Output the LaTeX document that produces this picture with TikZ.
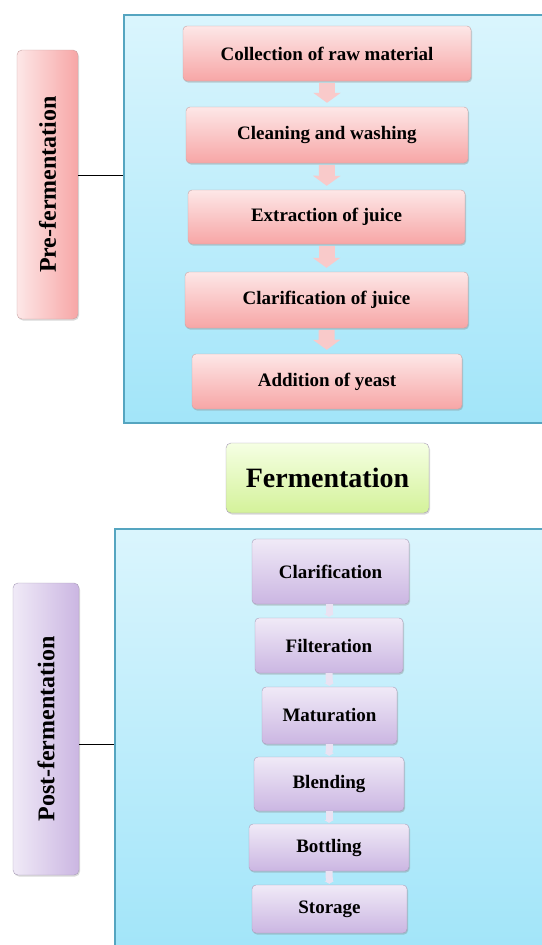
\documentclass[tikz,border=0pt]{standalone}
\usepackage{fontspec}
\setmainfont{Liberation Serif}
\usetikzlibrary{positioning, arrows.meta, shadows}

\definecolor{paneltop}{HTML}{DAF5FD}
\definecolor{panelbottom}{HTML}{A2E5F9}
\definecolor{panelline}{HTML}{55A5C0}
\definecolor{pinktop}{HTML}{FDE7E7}
\definecolor{pinkbottom}{HTML}{F7A6A6}
\definecolor{pinkline}{HTML}{C9A3A3}
\definecolor{pinkarrow}{HTML}{F9CACA}
\definecolor{lilactop}{HTML}{F0EAF7}
\definecolor{lilacbottom}{HTML}{CBB6E2}
\definecolor{lilacline}{HTML}{A99DB8}
\definecolor{lilacarrow}{HTML}{EAE2F2}
\definecolor{greentop}{HTML}{F5FFE3}
\definecolor{greenbottom}{HTML}{D4F29A}

\begin{document}
\begin{tikzpicture}[x=1pt, y=-1pt]
	\tikzset{
	panel/.style={draw=panelline, line width=1.2pt, top color=paneltop, bottom color=panelbottom, inner sep=0pt}, % the two big blue areas
	boxtext/.style={font=\bfseries\fontsize{19}{22}\selectfont, align=center, inner sep=2pt},
	pinkstep/.style={boxtext, draw=pinkline, rounded corners=4pt, top color=pinktop, bottom color=pinkbottom,
		drop shadow={opacity=0.35, shadow xshift=1pt, shadow yshift=-1.5pt}}, % pre-fermentation steps
	lilacstep/.style={boxtext, draw=lilacline, rounded corners=4pt, top color=lilactop, bottom color=lilacbottom,
		drop shadow={opacity=0.35, shadow xshift=1pt, shadow yshift=-1.5pt}}, % post-fermentation steps
	sidelabel/.style={font=\bfseries\fontsize{24}{28}\selectfont, rounded corners=5pt, inner sep=0pt,
		drop shadow={opacity=0.3, shadow xshift=1pt, shadow yshift=-1.5pt}},
	pinkflow/.style={pinkarrow, line width=16pt, -{Triangle[width=27pt, length=10pt]}, shorten <=2pt, shorten >=4pt}, % block arrows
	lilacflow/.style={lilacarrow, line width=7pt, -{Triangle[width=10pt, length=3pt]}, shorten <=0pt, shorten >=1pt}
	}
	\useasboundingbox (0,0) rectangle (541,945);

	% blue areas
	\node[panel, minimum width=426pt, minimum height=408pt] (prebox) at (337,219) {};
	\node[panel, minimum width=435pt, minimum height=421pt] (postbox) at (332.5,739.5) {};

	% side labels
	\node[sidelabel, draw=pinkline, left color=pinktop, right color=pinkbottom, minimum width=61pt, minimum height=269pt] (prelabel) at (47.5,184.5) {\rotatebox{90}{Pre-fermentation}};
	\node[sidelabel, draw=lilacline, left color=lilactop, right color=lilacbottom, minimum width=66pt, minimum height=292pt] (postlabel) at (46,729) {\rotatebox{90}{Post-fermentation}};
	\draw[line width=0.8pt] (prelabel.east |- 0,175) -- (prebox.west |- 0,175);
	\draw[line width=0.8pt] (postlabel.east |- 0,744) -- (postbox.west |- 0,744);

	% pre-fermentation steps
	\node[pinkstep, minimum width=288pt, minimum height=55pt] (collect) at (327,53.5) {Collection of raw material};
	\node[pinkstep, minimum width=282pt, minimum height=56pt] (clean) at (327,135) {Cleaning and washing};
	\node[pinkstep, minimum width=277pt, minimum height=54pt] (extract) at (326.5,217) {Extraction of juice};
	\node[pinkstep, minimum width=283pt, minimum height=56pt] (clarjuice) at (326.5,300) {Clarification of juice};
	\node[pinkstep, minimum width=270pt, minimum height=55pt] (yeast) at (327,381.5) {Addition of yeast};
	\draw[pinkflow] (collect) -- (clean);
	\draw[pinkflow] (clean) -- (extract);
	\draw[pinkflow] (extract) -- (clarjuice);
	\draw[pinkflow] (clarjuice) -- (yeast);

	% fermentation
	\node[boxtext, font=\bfseries\fontsize{28}{32}\selectfont, draw=lilacline, rounded corners=5pt, top color=greentop, bottom color=greenbottom,
		minimum width=203pt, minimum height=70pt, drop shadow={opacity=0.3, shadow xshift=1pt, shadow yshift=-1.5pt}] (ferment) at (327.5,478) {Fermentation};

	% post-fermentation steps
	\node[lilacstep, minimum width=157pt, minimum height=65pt] (clarify) at (330.5,571.5) {Clarification};
	\node[lilacstep, minimum width=148pt, minimum height=55pt] (filter) at (329,645.5) {Filteration};
	\node[lilacstep, minimum width=135pt, minimum height=57pt] (mature) at (329.5,715.5) {Maturation};
	\node[lilacstep, minimum width=150pt, minimum height=54pt] (blend) at (329,784) {Blending};
	\node[lilacstep, minimum width=160pt, minimum height=47pt] (bottle) at (329,847.5) {Bottling};
	\node[lilacstep, minimum width=155pt, minimum height=48pt] (store) at (329.5,909) {Storage};
	\draw[lilacflow] (clarify.south -| filter.north) -- (filter.north);
	\draw[lilacflow] (filter) -- (mature);
	\draw[lilacflow] (mature) -- (blend);
	\draw[lilacflow] (blend) -- (bottle);
	\draw[lilacflow] (bottle) -- (store);
\end{tikzpicture}
\end{document}
